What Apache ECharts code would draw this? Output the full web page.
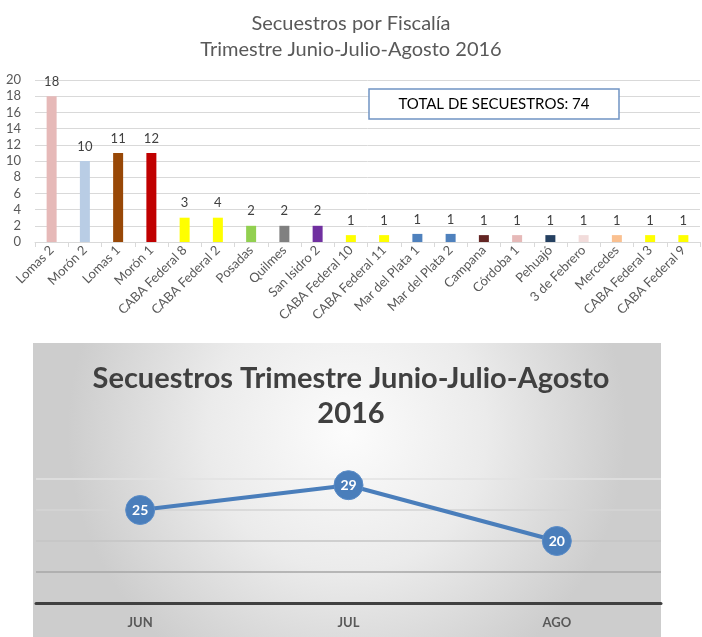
<!DOCTYPE html>
<html>
<head>
<meta charset="utf-8">
<script src="https://cdn.jsdelivr.net/npm/echarts@6/dist/echarts.min.js"></script>
<style>html,body{margin:0;padding:0;background:#fff}#c{width:702px;height:637px}</style>
</head>
<body>
<div id="c"></div>
<script>
// ---- Top chart data ----
const fiscalias = ['Lomas 2','Morón 2','Lomas 1','Morón 1','CABA Federal 8','CABA Federal 2','Posadas','Quilmes','San Isidro 2','CABA Federal 10','CABA Federal 11','Mar del Plata 1','Mar del Plata 2','Campana','Córdoba 1','Pehuajó','3 de Febrero','Mercedes','CABA Federal 3','CABA Federal 9'];
// bar heights as drawn in the picture
const barHeights = [18,10,11,11,3,3,2,2,2,0.85,0.85,1,1,0.85,0.85,0.85,0.85,0.85,0.85,0.85];
// numbers printed above bars
const barLabels = [18,10,11,12,3,4,2,2,2,1,1,1,1,1,1,1,1,1,1,1];
const barColors = ['#E6B9B8','#B9CDE5','#984807','#C00000','#FFFF00','#FFFF00','#92D050','#808080','#7030A0','#FFFF00','#FFFF00','#4F81BD','#4F81BD','#632523','#E6B9B8','#254061','#F2DCDB','#FAC090','#FFFF00','#FFFF00'];
const totalText = 'TOTAL DE SECUESTROS: 74';

// ---- Bottom chart data ----
const meses = ['JUN','JUL','AGO'];
const secuestrosMes = [25,29,20];

const FONT = 'Lato';
const chart = echarts.init(document.getElementById('c'));
chart.setOption({
  animation: false,
  textStyle: {fontFamily: FONT},
  title: [
    {text: 'Secuestros por Fiscalía\nTrimestre Junio-Julio-Agosto 2016', left: 'center', top: 6,
     textStyle: {fontFamily: FONT, fontSize: 20, fontWeight: 'normal', color: '#595959', lineHeight: 26}},
    {text: 'Secuestros Trimestre Junio-Julio-Agosto\n2016', left: 'center', top: 356,
     textStyle: {fontFamily: FONT, fontSize: 29, fontWeight: 'bold', color: '#404040', lineHeight: 35}}
  ],
  graphic: [
    {type: 'rect', z: -100, silent: true, shape: {x: 33, y: 343, width: 628, height: 294},
     style: {fill: {type: 'radial', x: 0.5, y: 0.3, r: 0.95,
       colorStops: [{offset: 0, color: '#fcfcfc'}, {offset: 0.5, color: '#ebebeb'}, {offset: 1, color: '#cdcdcd'}]}}},
    {type: 'rect', z: 10, shape: {x: 369, y: 89, width: 250, height: 30},
     style: {fill: '#ffffff', stroke: '#7094c4', lineWidth: 1.5}},
    {type: 'text', z: 11, x: 494, y: 104,
     style: {text: totalText, fontFamily: FONT, fontSize: 15, fill: '#000000', align: 'center', verticalAlign: 'middle'}}
  ],
  grid: [
    {left: 35, top: 80, width: 665, height: 162},
    {left: 36, top: 479, width: 625, height: 124}
  ],
  xAxis: [
    {type: 'category', gridIndex: 0, data: fiscalias,
     axisLine: {lineStyle: {color: '#d9d9d9'}},
     axisTick: {show: true, length: 5, lineStyle: {color: '#d9d9d9'}},
     axisLabel: {rotate: 45, interval: 0, fontSize: 13, color: '#595959', fontFamily: FONT, margin: 6}},
    {type: 'category', gridIndex: 1, data: meses,
     axisLine: {lineStyle: {color: '#404040', width: 3}},
     axisTick: {show: false},
     axisLabel: {fontSize: 13, fontWeight: 'bold', color: '#595959', fontFamily: FONT, margin: 13}}
  ],
  yAxis: [
    {type: 'value', gridIndex: 0, min: 0, max: 20, interval: 2,
     axisLine: {show: false}, axisTick: {show: false},
     axisLabel: {fontSize: 13, color: '#595959', fontFamily: FONT, margin: 14},
     splitLine: {lineStyle: {color: '#d9d9d9'}}},
    {type: 'value', gridIndex: 1, min: 10, max: 30, interval: 5,
     axisLine: {show: false}, axisTick: {show: false}, axisLabel: {show: false},
     splitLine: {lineStyle: {color: ['#404040', '#a6a6a6', '#c4c4c4', '#d4d4d4', '#e2e2e2'], width: 1.5}}}
  ],
  series: [
    {type: 'bar', xAxisIndex: 0, yAxisIndex: 0, barWidth: 10,
     data: barHeights.map((v, i) => ({value: v, itemStyle: {color: barColors[i]}})),
     label: {show: true, position: 'top', distance: 8, fontSize: 13, color: '#404040', fontFamily: FONT,
             formatter: p => String(barLabels[p.dataIndex])}},
    {type: 'line', xAxisIndex: 1, yAxisIndex: 1, data: secuestrosMes,
     lineStyle: {color: '#4A7EBB', width: 4},
     symbol: 'circle', symbolSize: 29,
     itemStyle: {color: '#4A7EBB', borderColor: '#5a8cc8', borderWidth: 1},
     label: {show: true, position: 'inside', color: '#ffffff', fontWeight: 'bold', fontSize: 14, fontFamily: FONT}}
  ]
});
</script>
</body>
</html>
